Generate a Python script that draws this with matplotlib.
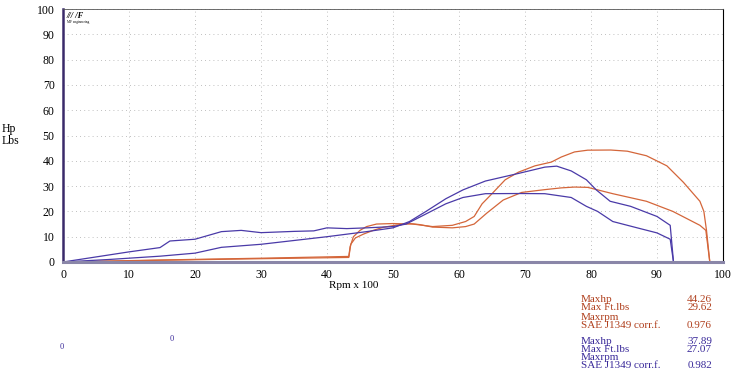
import matplotlib
matplotlib.use("Agg")
from matplotlib import pyplot as plt

# run 1 (red)
rpm_hp_red = [0, 15, 30, 43.3, 43.5, 44, 45, 46, 47.5, 50, 53, 56, 59, 61, 62.3, 63.5, 65, 67, 69, 71.5, 74, 75.5, 77.5, 79.5, 83, 85.5, 88.4, 91.5, 94, 96.5, 97.1, 97.5, 98]
hp_red = [0, 0.8, 1.5, 2.2, 6, 10, 12.5, 14, 15, 15.2, 15, 14, 14.5, 16, 18, 23, 27, 32.5, 35.5, 38, 39.5, 41.5, 43.5, 44.2, 44.26, 43.8, 42, 38, 31.5, 24, 20, 12.5, 0]
rpm_tq_red = [0, 15, 30, 43.3, 43.6, 44.3, 45.5, 47, 48.5, 50.5, 52.5, 54, 56, 59, 61, 62.3, 64.2, 66.7, 69.5, 73, 75.5, 77.5, 79.5, 83.3, 88.4, 92.4, 96.5, 97.4, 98]
tq_red = [0, 0.7, 1.3, 1.8, 7, 9.5, 11, 12.5, 13.7, 14.6, 15.2, 14.8, 13.8, 13.5, 14, 15, 19.3, 24.5, 27.5, 28.6, 29.3, 29.62, 29.5, 27, 24, 20, 14.5, 12.5, 0]

# run 2 (blue)
rpm_hp_blue = [0, 7, 14.7, 20, 24, 30, 35, 40, 43, 46, 50, 52.5, 55, 58, 60.6, 64, 69, 73, 74.8, 77, 79.3, 80.8, 82.9, 86, 90, 92, 92.5]
hp_blue = [0, 1, 2.3, 3.5, 5.8, 7, 8.5, 10, 11, 12, 13.5, 16, 20, 25, 28.5, 32, 35, 37.5, 37.89, 36, 32.5, 28.5, 24, 22, 18, 14.5, 0]
rpm_tq_blue = [0, 10, 14.7, 16.2, 20, 24, 27, 30, 35, 38, 40, 43, 46, 50, 52, 55, 58, 60.6, 64, 69, 73, 77, 79.3, 81, 83.3, 87, 90, 92, 92.5]
tq_blue = [0, 4, 5.7, 8.3, 9, 12, 12.5, 11.6, 12.1, 12.3, 13.5, 13.2, 13.5, 14, 15, 19, 23, 25.5, 27, 27.07, 27, 25.5, 22, 20, 16, 13.5, 11.5, 9, 0]

xticks = [0, 10, 20, 30, 40, 50, 60, 70, 80, 90, 100]
yticks = [0, 10, 20, 30, 40, 50, 60, 70, 80, 90, 100]

labels = ["Maxhp", "Max Ft.lbs", "Maxrpm", "SAE J1349 corr.f."]
vals_red = ["44.26", "29.62", "", "0.976"]
vals_blue = ["37.89", "27.07", "", "0.982"]

red = "#d4663a"
blue = "#4a3aa8"
red_txt = "#b0401e"
blue_txt = "#3a2a9a"

plt.rcParams['font.family'] = ['Liberation Serif', 'DejaVu Serif']

fig = plt.figure(figsize=(7.5, 3.73), dpi=100)
ax = fig.add_axes([63/750, 1 - 262/373, 660/750, 253/373])

ax.plot(rpm_hp_red, hp_red, color=red, lw=0.9)
ax.plot(rpm_tq_red, tq_red, color=red, lw=0.9)
ax.plot(rpm_hp_blue, hp_blue, color=blue, lw=0.9)
ax.plot(rpm_tq_blue, tq_blue, color=blue, lw=0.9)

ax.set_xlim(0, 100)
ax.set_ylim(0, 100)
ax.set_xticks(xticks)
ax.set_yticks(yticks)
ax.tick_params(length=0, labelsize=8.5)
ax.tick_params(axis='x', pad=5)
ax.tick_params(axis='y', pad=6)
ax.grid(True, linestyle=(0, (1, 4)), color='#aaaaaa', lw=0.6)

ax.spines['left'].set_color('#3a2a6a')
ax.spines['left'].set_linewidth(1.8)
ax.spines['bottom'].set_color('#8a86a8')
ax.spines['bottom'].set_linewidth(2.2)
ax.spines['right'].set_linewidth(0.8)
ax.spines['top'].set_linewidth(0.6)
ax.spines['top'].set_color('#555555')

fig.text(2/750, 1 - 135/373, "Hp\nLbs", fontsize=8.5, va='center', ha='left', linespacing=1.1)
fig.text(354/750, 1 - 285/373, "Rpm x 100", fontsize=8, ha='center', va='center')

# little logo in the corner
ax.text(0.6, 99, "/// /F", fontsize=6, fontweight='bold', style='italic', va='top', ha='left')
ax.text(0.6, 95.5, "MF engineering", fontsize=2.5, va='top', ha='left')

for i in range(4):
    y = 1 - (299 + i * 9) / 373
    fig.text(581/750, y, labels[i], fontsize=8, color=red_txt, va='center')
    fig.text(712/750, y, vals_red[i], fontsize=8, color=red_txt, va='center', ha='right')
for i in range(4):
    y = 1 - (341 + i * 8.2) / 373
    fig.text(581/750, y, labels[i], fontsize=8, color=blue_txt, va='center')
    fig.text(712/750, y, vals_blue[i], fontsize=8, color=blue_txt, va='center', ha='right')

fig.text(62/750, 1 - 347/373, "0", fontsize=6, color=blue_txt, ha='center', va='center')
fig.text(172/750, 1 - 339/373, "0", fontsize=6, color=blue_txt, ha='center', va='center')

plt.savefig('out.png', dpi=100)
